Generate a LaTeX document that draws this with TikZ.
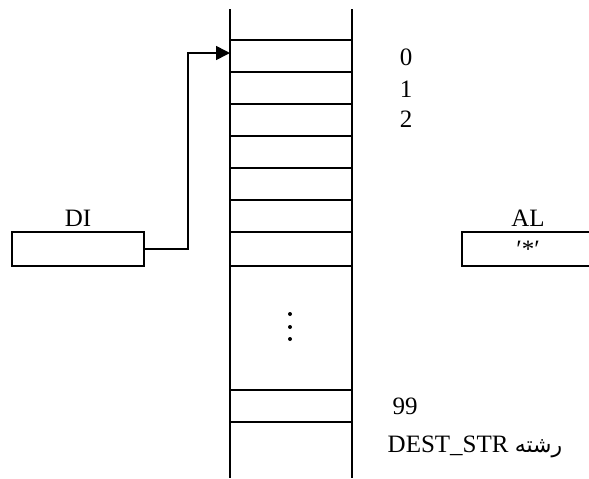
\documentclass[tikz,border=0pt]{standalone}
\usepackage{fontspec}
\setmainfont{Liberation Serif}
\newfontfamily\arabicfont[Script=Arabic]{DejaVu Sans}
\TeXXeTstate=1
\usetikzlibrary{arrows.meta}

\begin{document}
\begin{tikzpicture}[x=0.5pt, y=-0.5pt, font=\fontsize{12.5}{15}\selectfont,
  >={Triangle[length=7pt, width=7pt]},
  reg/.style={draw, rectangle, line width=1pt, minimum width=66pt, minimum height=17pt, inner sep=0pt},
  cell/.style={line width=1pt},
  lbl/.style={inner sep=0pt},
  arr/.style={->, line width=0.8pt}]
  \clip (0,0) rectangle (589,478);
  % the string in memory
  \draw[cell] (230,9) -- (230,478) (352,9) -- (352,478);
  \foreach \y in {40,72,104,136,168,200,232,266,390,422}
    \draw[cell] (230,\y) -- (352,\y);
  \fill (290,314) circle[radius=1pt] (290,327) circle[radius=1pt] (290,339) circle[radius=1pt];

  \node[lbl] (n0) at (406,57) {0};
  \node[lbl] (n1) at (406,89) {1};
  \node[lbl] (n2) at (406,119) {2};
  \node[lbl] (n99) at (405,406) {99};
  \node[lbl] (dest) at (475,447) {\beginR{\arabicfont\fontsize{11}{13}\selectfont رشته} \beginL DEST\_STR\endL\endR};

  % registers
  \node[reg] (di) at (78,249) {};
  \node[lbl] (dilbl) at (78,218) {DI};
  \node[reg] (al) at (528,249) {′*′};
  \node[lbl] (allbl) at (528,218) {AL};

  \coordinate (c0) at (230,53);
  \coordinate (turn) at (188,53);
  \draw[arr] (di.east) -| (turn) -- (c0);
\end{tikzpicture}
\end{document}
